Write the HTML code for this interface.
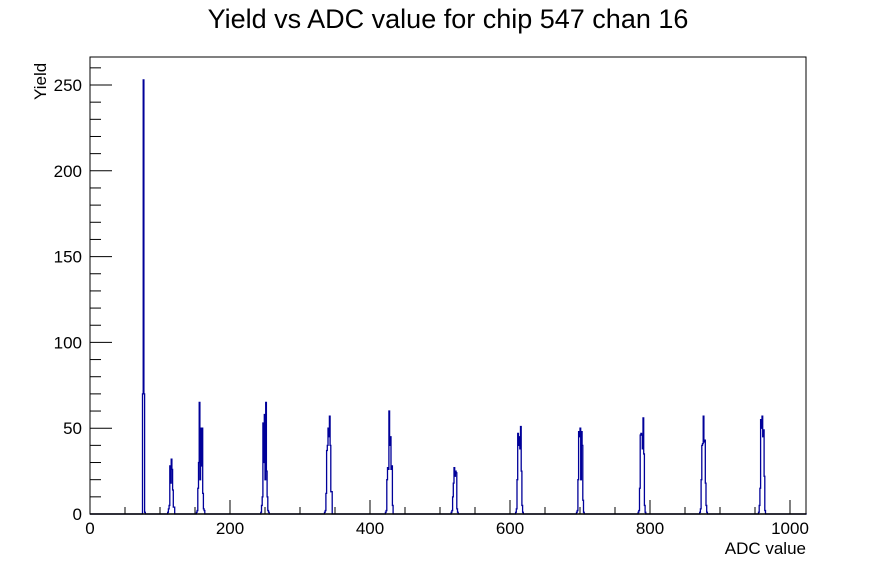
<!DOCTYPE html>
<html><head><meta charset="utf-8"><style>
body{margin:0;background:#fff;}
svg{display:block;font-family:"Liberation Sans",Arial,sans-serif;}
</style></head><body>
<svg id="s" width="896" height="572" xmlns="http://www.w3.org/2000/svg">
<rect width="896" height="572" fill="#fff"/>
<text x="448" y="28" font-size="27" text-anchor="middle">Yield vs ADC value for chip 547 chan 16</text>
<path id="h" fill="none" stroke="#000099" stroke-width="1.3"/>
<rect x="90" y="57" width="716" height="457" fill="none" stroke="#000" stroke-width="1"/>
<line x1="90" x2="806" y1="514" y2="514" stroke="#000" stroke-width="1.5"/>
<g id="ticks" stroke="#000" stroke-width="1"></g>
<g font-size="17" id="lab"></g>
<text x="806" y="554" font-size="17" text-anchor="end">ADC value</text>
<text transform="translate(46,100) rotate(-90)" font-size="17">Yield</text>
</svg>
<script>
var X=function(v){return 90+v*0.7;},Y=function(v){return 514-v*1.716;};
var t='',l='';
for(var v=0;v<=1000;v+=50){var big=v%200==0;t+='<line x1="'+X(v)+'" x2="'+X(v)+'" y1="514" y2="'+(514-(big?14:7))+'"/>';if(big)l+='<text x="'+X(v)+'" y="534" text-anchor="middle">'+v+'</text>';}
for(var v=0;v<=260;v+=10){var big=v%50==0;t+='<line x1="90" x2="'+(90+(big?22:11))+'" y1="'+Y(v)+'" y2="'+Y(v)+'"/>';if(big)l+='<text x="82" y="'+(Y(v)+6)+'" text-anchor="end">'+v+'</text>';}
document.getElementById('ticks').innerHTML=t;document.getElementById('lab').innerHTML=l;
var d=new Array(1024).fill(0);
var peaks=[[75,[70,253,70,1]],
[111,[1,3,5,28,18,32,26,14,4,4]],
[152,[1,2,15,30,65,20,50,28,50,12,3,2]],
[244,[1,5,10,53,30,58,20,65,25,10,2,1]],
[335,[1,2,12,37,40,50,45,57,40,13,13]],
[422,[1,2,20,27,26,60,40,45,26,28,5]],
[516,[1,2,10,18,27,22,25,24,3,1]],
[608,[1,3,20,47,40,45,38,51,25,5,1]],
[695,[1,2,20,48,45,50,20,48,40,8,1]],
[783,[1,2,15,46,47,46,38,56,35,5,1]],
[871,[1,3,20,40,41,57,42,43,18,5,1]],
[955,[1,5,15,55,50,57,45,49,22,2]]];
peaks.forEach(function(p){p[1].forEach(function(v,i){d[p[0]+i]=v;});});
var p='M'+X(0)+' '+Y(0);
for(var i=0;i<1024;i++){p+='L'+X(i)+' '+Y(d[i])+'L'+X(i+1)+' '+Y(d[i]);}
p+='L'+X(1024)+' '+Y(0);
document.getElementById('h').setAttribute('d',p);
</script>
</body></html>
